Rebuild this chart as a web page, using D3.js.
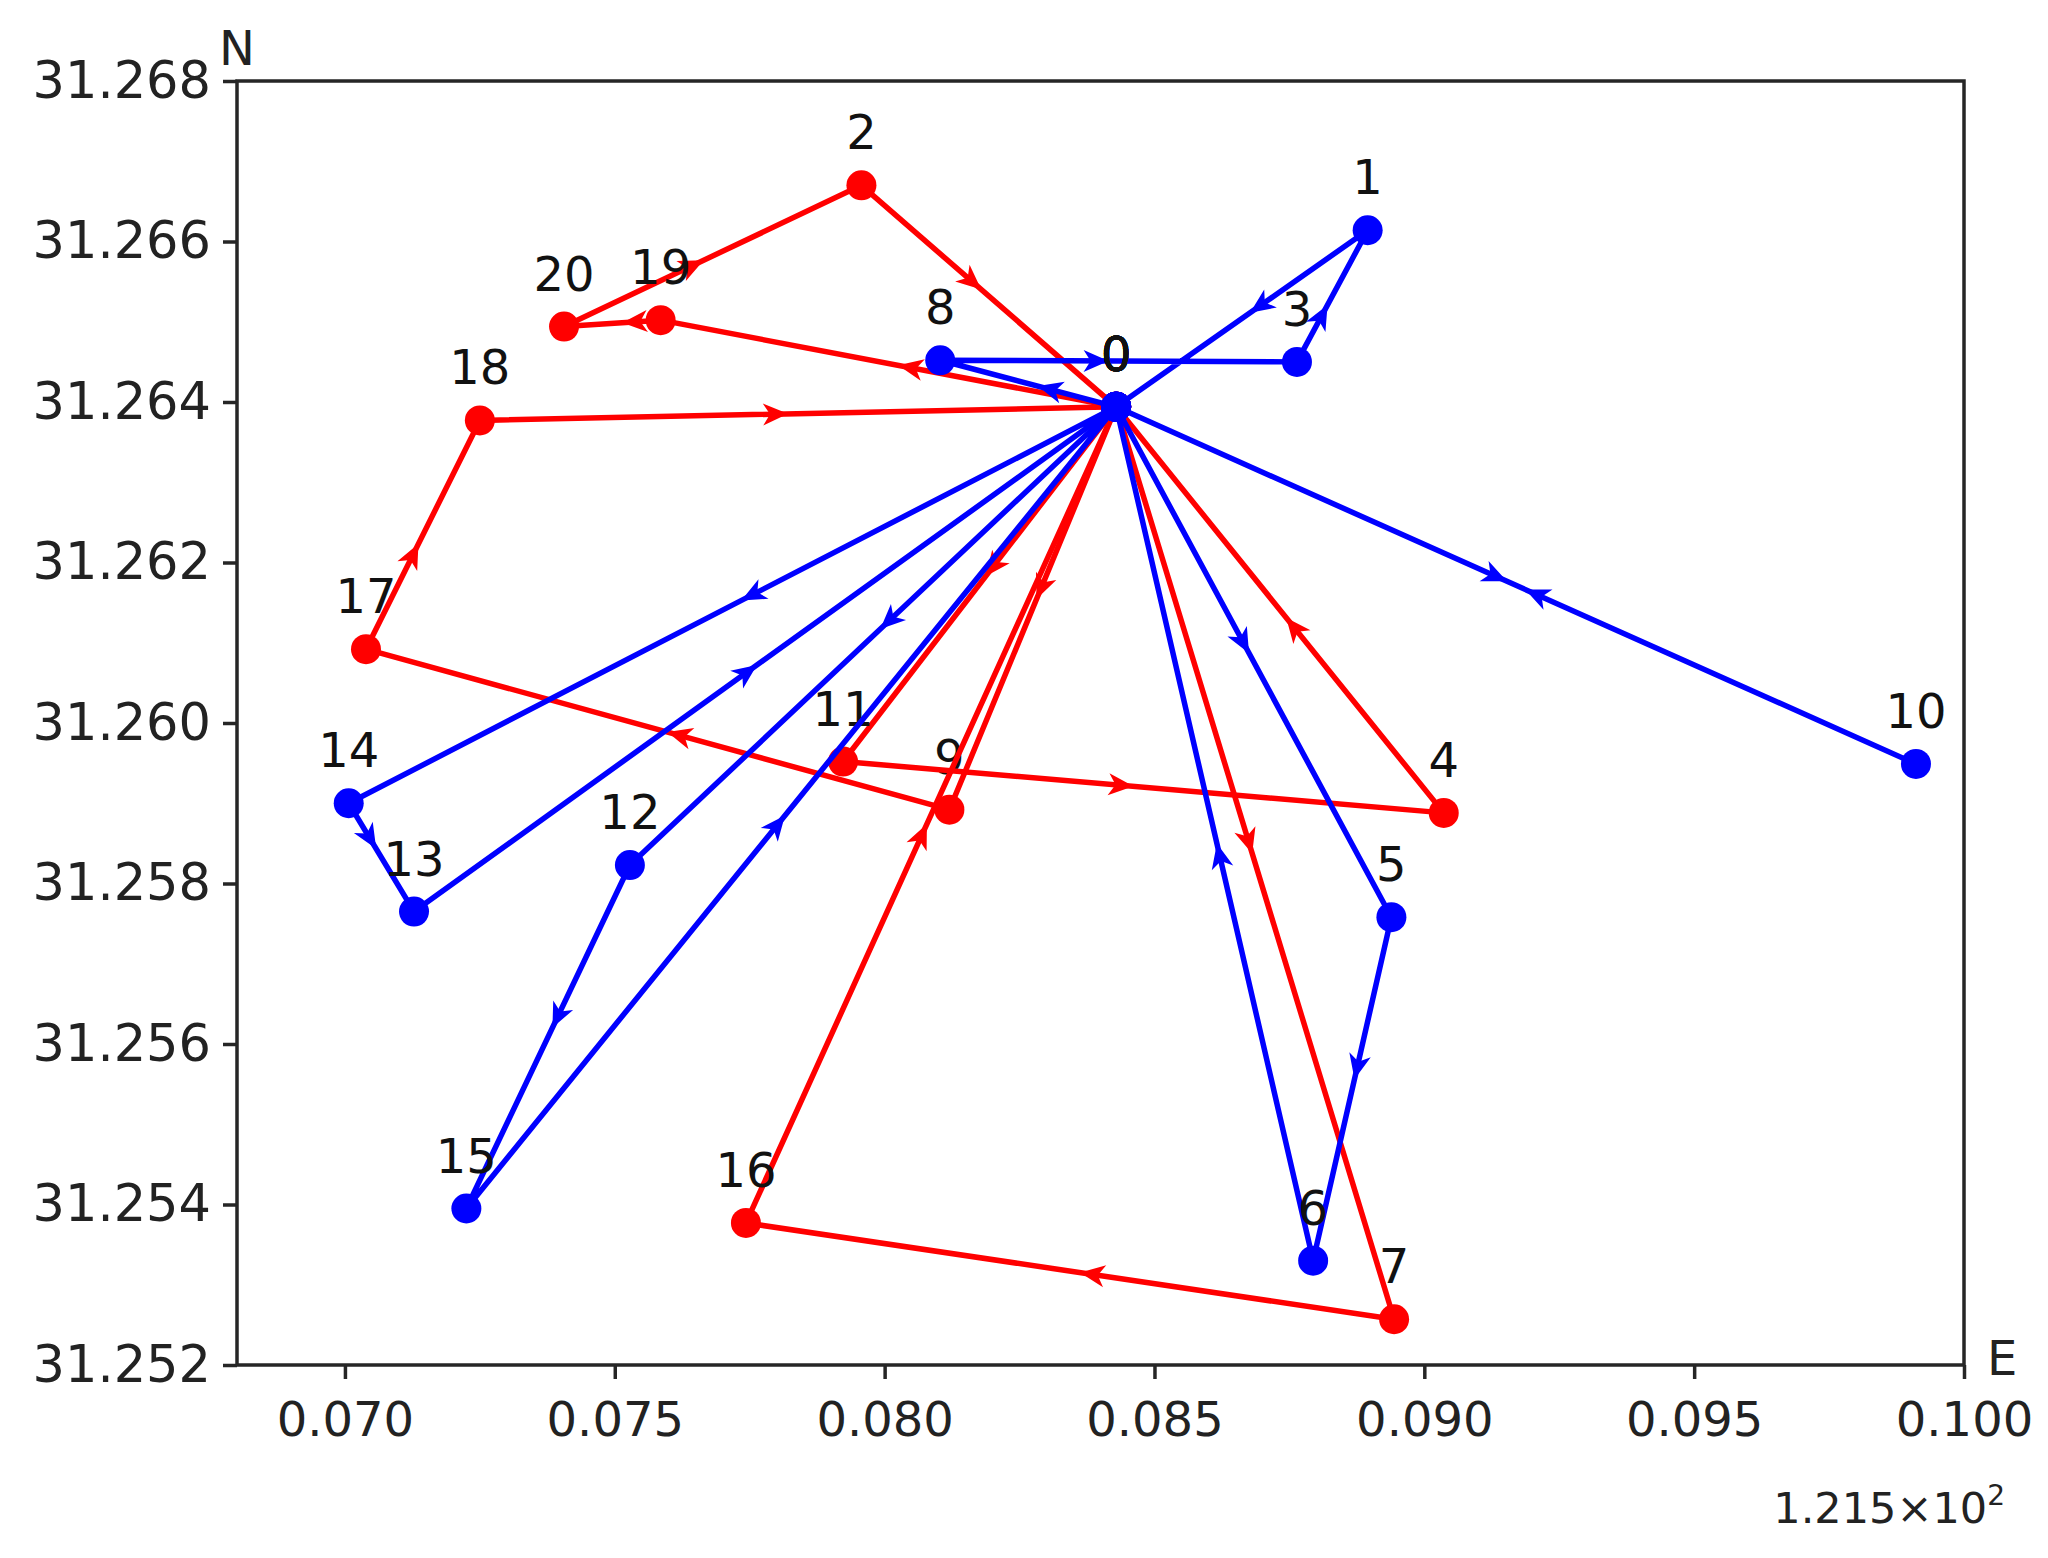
<!DOCTYPE html>
<html>
<head>
<meta charset="utf-8">
<script src="https://cdn.jsdelivr.net/npm/d3@7"></script>
<style>
  body { margin: 0; background: #fff; }
  text { font-family: "DejaVu Sans", sans-serif; }
</style>
</head>
<body>
<svg id="chart" width="2048" height="1558"></svg>
<script>
// node ids, longitude offset (x 1.215e2) and latitude
var nodeIds = [0, 1, 2, 3, 4, 5, 6, 7, 8, 9, 10, 11, 12, 13, 14, 15, 16, 17, 18, 19, 20]
var lonOffset = [0.08429, 0.08895, 0.07957, 0.08764, 0.09036, 0.08939, 0.08794, 0.08944,
                 0.08103, 0.08120, 0.09911, 0.07923, 0.07528, 0.07128, 0.07007, 0.07225,
                 0.07743, 0.07039, 0.07250, 0.07585, 0.07406]
var lat = [31.26394, 31.26614, 31.26670, 31.26450, 31.25888, 31.25758, 31.25330, 31.25257,
           31.26452, 31.25892, 31.25949, 31.25952, 31.25823, 31.25765, 31.25900, 31.25395,
           31.25377, 31.26092, 31.26377, 31.26502, 31.26494]

var blueRoutes = [[0, 8, 3, 1, 0], [0, 10, 0], [0, 14, 13, 0], [0, 12, 15, 0], [0, 5, 6, 0]]
var redRoutes = [[0, 19, 20, 2, 0], [0, 9, 17, 18, 0], [0, 11, 4, 0], [0, 7, 16, 0]]

var xTicks = [0.070, 0.075, 0.080, 0.085, 0.090, 0.095, 0.100]
var yTicks = [31.252, 31.254, 31.256, 31.258, 31.260, 31.262, 31.264, 31.266, 31.268]

var svg = d3.select('#chart')

var x_scale = d3.scaleLinear()
    .domain([0.068, 0.100])
    .range([237, 1964])

var y_scale = d3.scaleLinear()
    .domain([31.252, 31.268])
    .range([1365, 81])

var fontSize = 48

// axes
var x_axis = d3.axisBottom(x_scale)
    .tickValues(xTicks)
    .tickFormat(d3.format('.3f'))
    .tickSize(14)
    .tickSizeOuter(0)
    .tickPadding(23)

var y_axis = d3.axisLeft(y_scale)
    .tickValues(yTicks)
    .tickFormat(d3.format('.3f'))
    .tickSize(14)
    .tickSizeOuter(0)
    .tickPadding(12)

var gx = svg.append('g')
    .attr('transform', 'translate(0,' + y_scale.range()[0] + ')')
    .call(x_axis)
var gy = svg.append('g')
    .attr('transform', 'translate(' + x_scale.range()[0] + ',0)')
    .call(y_axis)

svg.selectAll('.domain').remove()
svg.selectAll('.tick line').attr('stroke', '#262626').attr('stroke-width', 3.5)
svg.selectAll('.tick text')
    .attr('fill', '#222')
    .style('font-size', fontSize + 'px')
    .style('font-family', '"DejaVu Sans", sans-serif')
gy.selectAll('.tick text').style('font-size', '51px')

// frame
svg.append('rect')
    .attr('x', x_scale.range()[0])
    .attr('y', y_scale.range()[1])
    .attr('width', x_scale.range()[1] - x_scale.range()[0])
    .attr('height', y_scale.range()[0] - y_scale.range()[1])
    .attr('fill', 'none')
    .attr('stroke', '#262626')
    .attr('stroke-width', 3.5)

// axis names
svg.append('text')
    .attr('x', x_scale.range()[0] - 18)
    .attr('y', y_scale.range()[1] - 16)
    .attr('fill', '#222')
    .style('font-size', fontSize + 'px')
    .text('N')

svg.append('text')
    .attr('x', x_scale.range()[1] + 23)
    .attr('y', y_scale.range()[0] + 10)
    .attr('fill', '#222')
    .style('font-size', fontSize + 'px')
    .text('E')

// offset text 1.215x10^2
var off = svg.append('text')
    .attr('x', 2005)
    .attr('y', 1523)
    .attr('text-anchor', 'end')
    .attr('fill', '#222')
    .style('font-size', '43px')
off.append('tspan').text('1.215×10')
off.append('tspan').attr('dy', -18).style('font-size', '28px').text('2')

function px(id) { return x_scale(lonOffset[id]) }
function py(id) { return y_scale(lat[id]) }

function drawRoutes(routes, color) {
    var g = svg.append('g')

    routes.forEach(function (route) {
        var line = d3.line()
            .x(function (id) { return px(id) })
            .y(function (id) { return py(id) })

        g.append('path')
            .attr('d', line(route))
            .attr('fill', 'none')
            .attr('stroke', color)
            .attr('stroke-width', 5.5)
            .attr('stroke-linejoin', 'round')

        // arrow heads, tip just before the middle of each leg
        for (var i = 0; i < route.length - 1; i++) {
            var x1 = px(route[i]), y1 = py(route[i])
            var x2 = px(route[i + 1]), y2 = py(route[i + 1])
            var len = Math.hypot(x2 - x1, y2 - y1)
            var ux = (x2 - x1) / len, uy = (y2 - y1) / len
            var tx = (x1 + x2) / 2 - 10 * ux, ty = (y1 + y2) / 2 - 10 * uy
            var bx = tx - 25 * ux, by = ty - 25 * uy
            var nx = -uy, ny = ux
            g.append('path')
                .attr('d', 'M' + tx + ',' + ty +
                    'L' + (bx + 11 * nx) + ',' + (by + 11 * ny) +
                    'L' + (tx - 18 * ux) + ',' + (ty - 18 * uy) +
                    'L' + (bx - 11 * nx) + ',' + (by - 11 * ny) + 'Z')
                .attr('fill', color)
        }

        g.selectAll(null)
            .data(route)
            .enter()
            .append('circle')
            .attr('cx', function (id) { return px(id) })
            .attr('cy', function (id) { return py(id) })
            .attr('r', 15)
            .attr('fill', color)

        g.selectAll(null)
            .data(route.slice(0, -1))
            .enter()
            .append('text')
            .attr('x', function (id) { return px(id) })
            .attr('y', function (id) { return py(id) - 36 })
            .attr('text-anchor', 'middle')
            .attr('fill', '#111')
            .style('font-size', fontSize + 'px')
            .text(function (id) { return nodeIds[id] })
    })
}

drawRoutes(redRoutes, '#ff0000')
drawRoutes(blueRoutes, '#0000ff')
</script>
</body>
</html>
